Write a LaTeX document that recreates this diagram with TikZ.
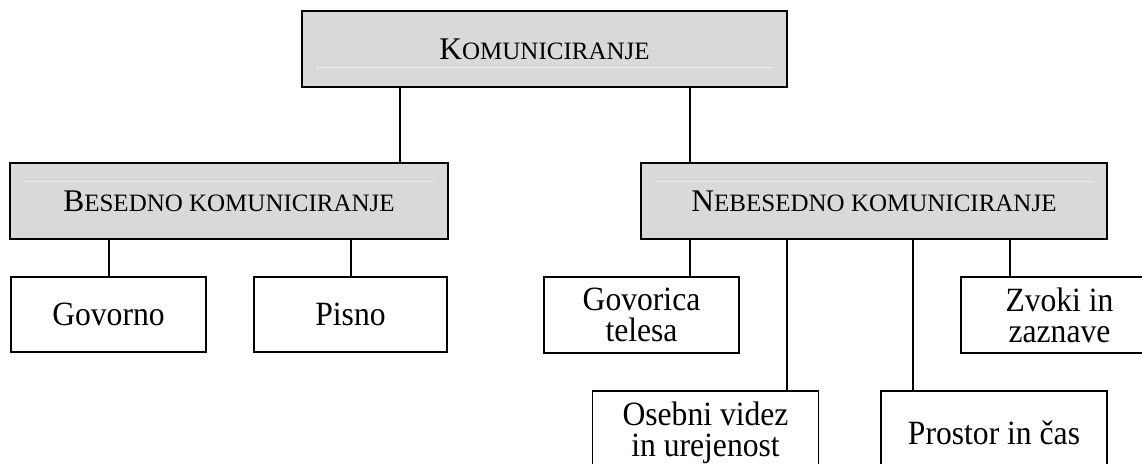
\documentclass[tikz,border=0pt]{standalone}
\usepackage{fontspec}
\setmainfont{Liberation Serif}
\newfontfamily\tallserif[FakeStretch=0.93]{Liberation Serif}
\definecolor{boxgray}{HTML}{D9D9D9}
\definecolor{hilite}{HTML}{EDEDED}
\newcommand{\fakesc}[2]{{\fontsize{31.5}{31}\selectfont #1}{\fontsize{25}{25}\selectfont #2}}
\begin{document}
\begin{tikzpicture}[x=1pt,y=-1pt,
  box/.style={draw=black,line width=1.8pt,rectangle,inner sep=0pt,align=center,
    font=\tallserif\fontsize{34}{31}\selectfont},
  gbox/.style={box,fill=boxgray,minimum height=76pt,font=\rmfamily},
  wbox/.style={box,fill=white},
  link/.style={line width=1.8pt},
  hl/.style={draw=hilite,line width=1pt}]
\clip (0,0) rectangle (1142,463);
\fill[white] (0,0) rectangle (1142,463);
% level 0
\node[gbox,minimum width=485pt] (K) at (544.5,49) {\fakesc{K}{OMUNICIRANJE}};
% level 1
\node[gbox,minimum width=438pt] (B) at (229,201) {\fakesc{B}{ESEDNO KOMUNICIRANJE}};
\node[gbox,minimum width=466pt] (N) at (874,201) {\fakesc{N}{EBESEDNO KOMUNICIRANJE}};
% highlight lines inside gray boxes
\draw[hl] ([xshift=15pt,yshift=-18pt]K.west) -- ([xshift=-15pt,yshift=-18pt]K.east);
\draw[hl] ([xshift=15pt,yshift=20pt]B.west) -- ([xshift=-15pt,yshift=20pt]B.east);
\draw[hl] ([xshift=15pt,yshift=20pt]N.west) -- ([xshift=-15pt,yshift=20pt]N.east);
% level 2
\node[wbox,minimum width=195pt,minimum height=75pt] (gov) at (108.5,314.5) {Govorno};
\node[wbox,minimum width=193pt,minimum height=75pt] (pis) at (350.5,314.5) {Pisno};
\node[wbox,minimum width=195pt,minimum height=76pt] (tel) at (641.5,315) {Govorica\\telesa};
\node[wbox,minimum width=197pt,minimum height=76pt] (zvo) at (1059.5,315) {Zvoki in\\zaznave};
\node[wbox,minimum width=226pt,minimum height=83pt] (ose) at (705.5,432.5) {Osebni videz\\in urejenost};
\node[wbox,minimum width=226pt,minimum height=83pt] (pro) at (994,432.5) {Prostor in čas};
% connectors
\draw[link] (400,0 |- K.south) -- (400,0 |- B.north);
\draw[link] (690,0 |- K.south) -- (690,0 |- N.north);
\draw[link] (109,0 |- B.south) -- (109,0 |- gov.north);
\draw[link] (351,0 |- B.south) -- (351,0 |- pis.north);
\draw[link] (690,0 |- N.south) -- (690,0 |- tel.north);
\draw[link] (787,0 |- N.south) -- (787,0 |- ose.north);
\draw[link] (913,0 |- N.south) -- (913,0 |- pro.north);
\draw[link] (1010,0 |- N.south) -- (1010,0 |- zvo.north);
\end{tikzpicture}
\end{document}
